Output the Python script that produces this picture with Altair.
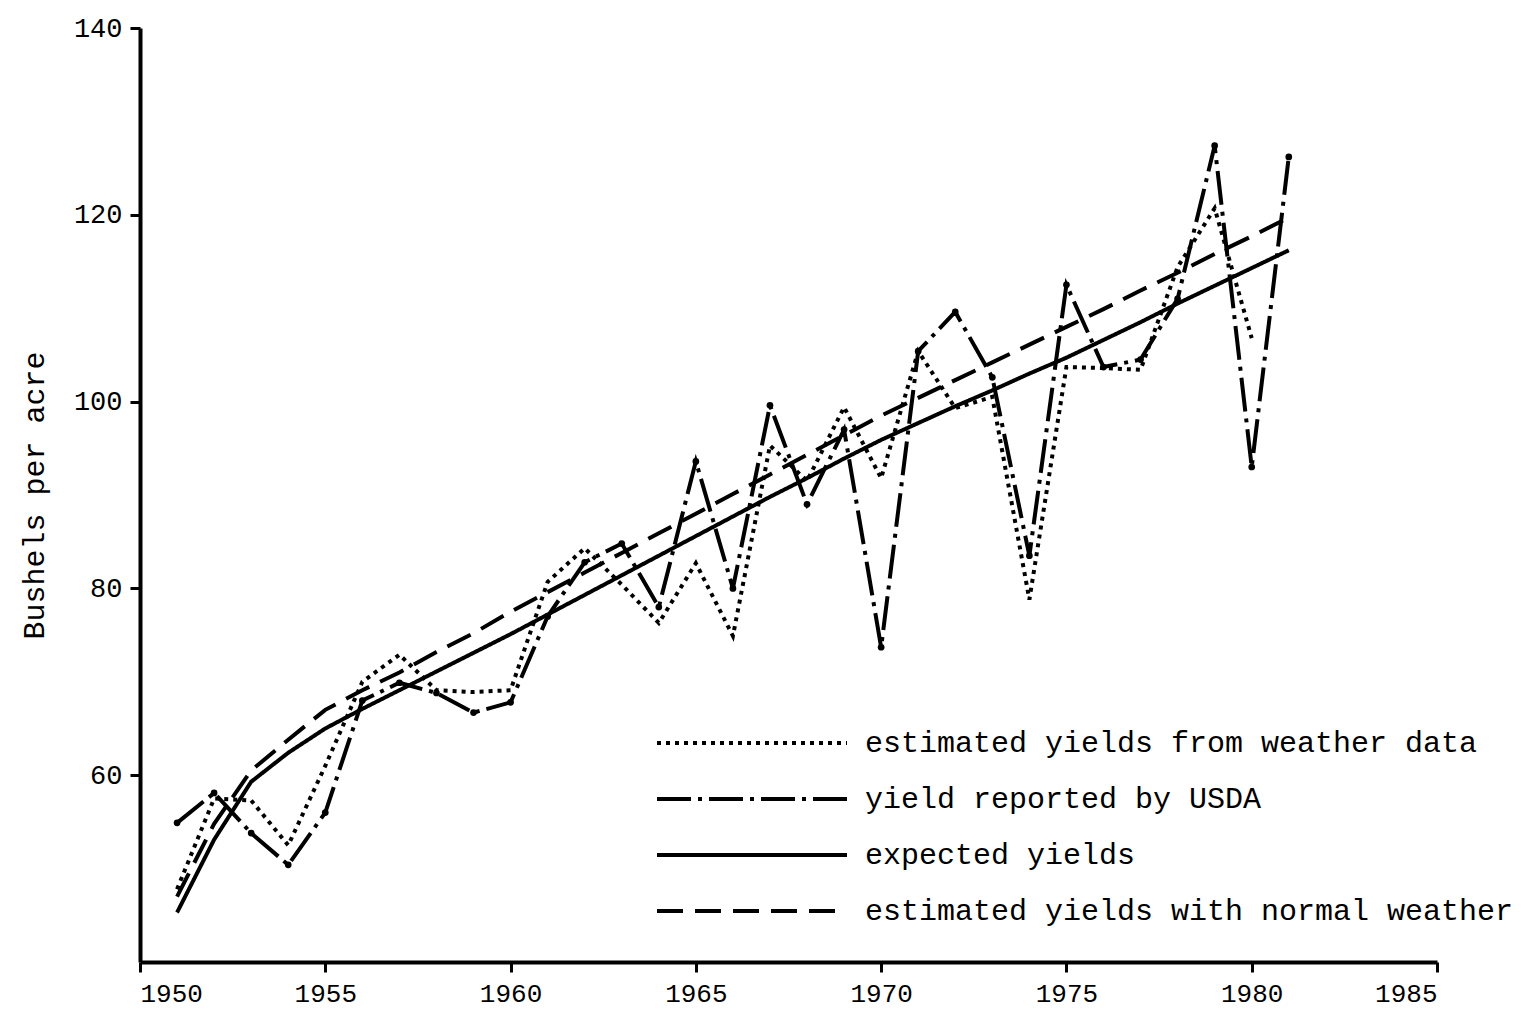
import altair as alt
import pandas as pd

years = list(range(1951, 1982))

expected = [45.3, 53.1, 59.3, 62.4, 65.0, 67.1, 69.1, 71.1, 73.1, 75.1,
            77.2, 79.3, 81.4, 83.5, 85.6, 87.7, 89.8, 91.8, 93.9, 95.9,
            97.7, 99.5, 101.2, 103.0, 104.7, 106.6, 108.5, 110.5, 112.4, 114.3, 116.2]

normal = [47.0, 54.8, 60.5, 63.8, 67.0, 69.1, 71.0, 73.2, 75.2, 77.5,
          79.6, 81.7, 83.8, 85.9, 88.0, 90.1, 92.2, 94.3, 96.4, 98.5,
          100.4, 102.3, 104.2, 106.1, 108.0, 109.9, 111.9, 113.8, 115.8, 117.7, 119.7]

weather_years = list(range(1951, 1981))
weather = [47.8, 57.5, 57.3, 52.5, 61.0, 70.0, 72.9, 69.1, 68.9, 69.1,
           80.7, 84.3, 80.4, 76.3, 82.7, 74.9, 95.3, 91.5, 99.4, 91.8,
           105.4, 99.3, 100.5, 78.8, 103.7, 103.6, 103.4, 114.4, 120.7, 106.8]

usda = [54.9, 58.1, 53.8, 50.4, 56.0, 68.0, 69.9, 68.8, 66.7, 67.8,
        77.0, 82.8, 84.8, 78.0, 93.6, 80.0, 99.6, 89.0, 97.0, 73.7,
        105.4, 109.6, 102.6, 83.5, 112.5, 103.7, 104.5, 111.0, 127.4, 93.0, 126.2]

series_names = [
    "estimated yields from weather data",
    "yield reported by USDA",
    "expected yields",
    "estimated yields with normal weather",
]
dash_patterns = [[4, 5], [34, 7, 4, 7], [1, 0], [26, 12]]

rows = []
for y, v in zip(weather_years, weather):
    rows.append({"year": y, "value": v, "series": series_names[0]})
for y, v in zip(years, usda):
    rows.append({"year": y, "value": v, "series": series_names[1]})
for y, v in zip(years, expected):
    rows.append({"year": y, "value": v, "series": series_names[2]})
for y, v in zip(years, normal):
    rows.append({"year": y, "value": v, "series": series_names[3]})
df = pd.DataFrame(rows)
usda_df = pd.DataFrame({"year": years, "value": usda})

FONT = "Liberation Mono"

x_enc = alt.X("year:Q",
              scale=alt.Scale(domain=[1950, 1985], nice=False, zero=False),
              axis=alt.Axis(values=[1950, 1955, 1960, 1965, 1970, 1975, 1980, 1985],
                            format="d", title=None, grid=False,
                            domainWidth=4, domainColor="black",
                            tickWidth=3, tickSize=10, tickColor="black",
                            labelFont=FONT, labelFontSize=26, labelColor="black",
                            labelPadding=8))
y_enc = alt.Y("value:Q",
              scale=alt.Scale(domain=[40, 140], nice=False, zero=False),
              axis=alt.Axis(values=[60, 80, 100, 120, 140], title="Bushels per acre",
                            grid=False, domainWidth=4, domainColor="black",
                            tickWidth=3, tickSize=10, tickColor="black",
                            labelFont=FONT, labelFontSize=27, labelColor="black",
                            labelPadding=8,
                            titleFont=FONT, titleFontSize=30, titleFontWeight="normal",
                            titleColor="black", titlePadding=24))

lines = alt.Chart(df).mark_line(color="black", strokeWidth=4).encode(
    x=x_enc,
    y=y_enc,
    strokeDash=alt.StrokeDash(
        "series:N",
        scale=alt.Scale(domain=series_names, range=dash_patterns),
        sort=series_names,
        legend=alt.Legend(
            title=None, orient="none", legendX=591, legendY=694,
            symbolType="M-5,0L5,0", symbolSize=1444, symbolStrokeWidth=4,
            symbolStrokeColor="black",
            labelFont=FONT, labelFontSize=30, labelColor="black",
            labelOffset=92, rowPadding=20, labelLimit=1000,
        ),
    ),
    detail="series:N",
)

points = alt.Chart(usda_df).mark_circle(color="black", size=45, opacity=1).encode(
    x="year:Q", y="value:Q"
)

chart = alt.layer(lines, points).properties(
    width=1297, height=934,
    padding={"left": 132, "top": 20, "right": 85, "bottom": 46},
    autosize=alt.AutoSizeParams(type="none"),
).configure(background="white").configure_view(stroke=None)

chart.save("out.html", embed_options={"renderer": "svg", "actions": False})
